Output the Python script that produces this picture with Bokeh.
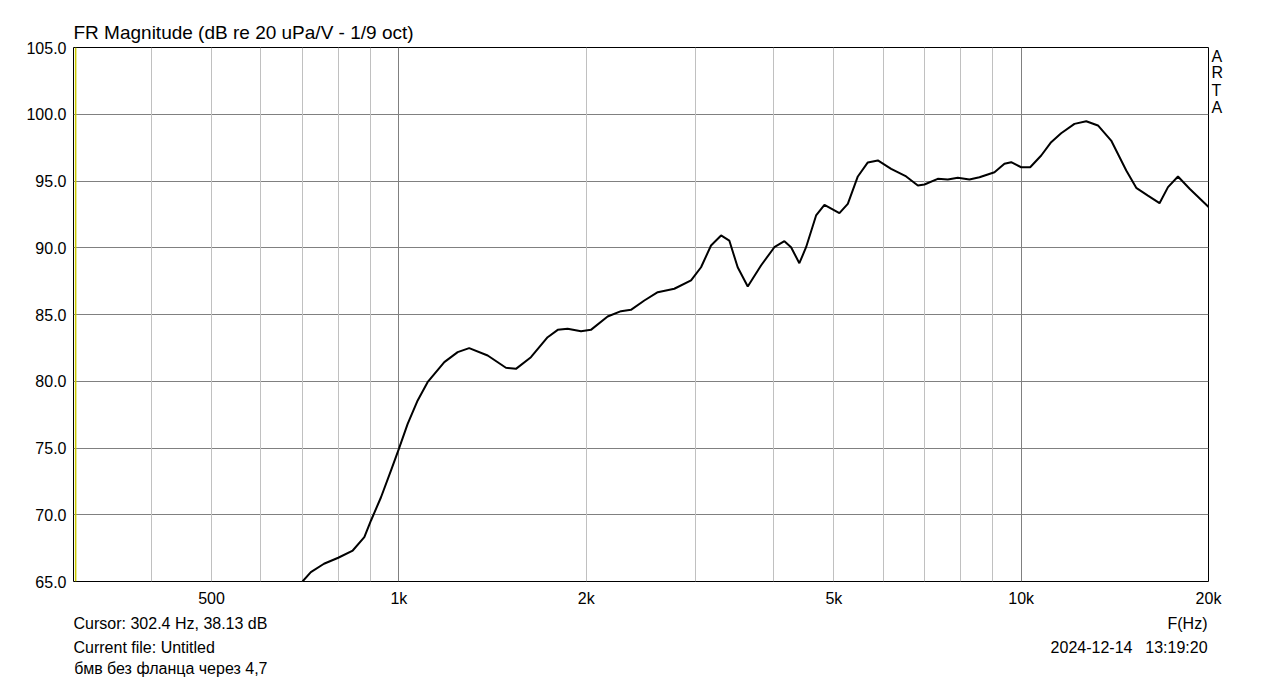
from bokeh.plotting import figure
from bokeh.models import (Range1d, FixedTicker, Grid, Span, LogAxis,
                          LinearAxis, PrintfTickFormatter)
from bokeh.embed import file_html
from bokeh.resources import INLINE

# ---------------- data ----------------
freq_hz = [680, 700, 722, 758, 799, 843, 880, 902, 936, 971, 1000, 1033, 1072,
           1112, 1183, 1243, 1297, 1389, 1486, 1542, 1630, 1734, 1800, 1867,
           1962, 2035, 2165, 2275, 2360, 2480, 2606, 2771, 2948, 3059, 3174,
           3294, 3396, 3503, 3636, 3819, 4012, 4164, 4268, 4401, 4512, 4682,
           4829, 5104, 5265, 5464, 5670, 5884, 6180, 6534, 6823, 6991, 7345,
           7623, 7910, 8258, 8570, 9060, 9400, 9637, 10000, 10339, 10770,
           11173, 11594, 12180, 12722, 13285, 13952, 14753, 15307, 15984,
           16685, 17216, 17864, 18650, 19970, 20000]
level_db = [64.6, 65.0, 65.70, 66.33, 66.78, 67.32, 68.32, 69.57, 71.31, 73.31,
            74.94, 76.81, 78.56, 79.93, 81.43, 82.18, 82.48, 81.93, 81.01,
            80.93, 81.80, 83.30, 83.85, 83.93, 83.75, 83.85, 84.85, 85.25,
            85.35, 86.05, 86.67, 86.93, 87.55, 88.54, 90.17, 90.92, 90.54,
            88.54, 87.10, 88.67, 90.04, 90.49, 90.04, 88.84, 90.04, 92.42,
            93.22, 92.59, 93.29, 95.34, 96.39, 96.54, 95.91, 95.34, 94.66,
            94.74, 95.16, 95.11, 95.24, 95.11, 95.28, 95.66, 96.29, 96.41,
            96.03, 96.03, 96.91, 97.91, 98.58, 99.28, 99.48, 99.16, 98.03,
            95.79, 94.49, 93.91, 93.34, 94.54, 95.34, 94.42, 93.09, 93.05]

x_tick_values = [500, 1000, 2000, 5000, 10000, 20000]
x_tick_labels = ["500", "1k", "2k", "5k", "10k", "20k"]
major_grid_hz = [1000, 10000]
minor_grid_hz = [400, 500, 600, 700, 800, 900, 2000, 3000, 4000, 5000, 6000,
                 7000, 8000, 9000]
y_ticks = [65, 70, 75, 80, 85, 90, 95, 100, 105]
x_min, x_max = 300, 20000
y_min, y_max = 65, 105
cursor_hz = 302.4

title_text = "FR Magnitude (dB re 20 uPa/V - 1/9 oct)"
cursor_text = "Cursor: 302.4 Hz, 38.13 dB"
file_text = "Current file: Untitled"
note_text = "бмв без фланца через 4,7"
axis_text = "F(Hz)"
date_text = "2024-12-14"
time_text = "13:19:20"
side_letters = ["A", "R", "T", "A"]

FONT = "Liberation Sans"
FRAME_W, FRAME_H = 1135, 534

# ---------------- figure ----------------
p = figure(x_axis_type="log", frame_width=FRAME_W, frame_height=FRAME_H,
           min_border_left=73, min_border_right=57, min_border_top=47,
           min_border_bottom=96, toolbar_location=None, output_backend="svg",
           x_range=Range1d(x_min, x_max), y_range=Range1d(y_min, y_max))
p.background_fill_color = "white"
p.border_fill_color = "white"
p.outline_line_color = "black"
p.outline_line_width = 1

p.title.text = title_text
p.title.align = "left"
p.title.text_font = FONT
p.title.text_font_size = "19px"
p.title.text_font_style = "normal"
p.title.text_color = "black"
p.title.standoff = 10

p.xgrid.visible = False
p.ygrid.ticker = FixedTicker(ticks=y_ticks)
p.ygrid.grid_line_color = "#808080"

p.add_layout(Grid(dimension=0, ticker=FixedTicker(ticks=minor_grid_hz),
                  grid_line_color="#c0c0c0", grid_line_width=1), "center")
p.add_layout(Grid(dimension=0, ticker=FixedTicker(ticks=major_grid_hz),
                  grid_line_color="#808080", grid_line_width=1), "center")


def style_axis(ax, standoff):
    ax.major_tick_line_color = None
    ax.minor_tick_line_color = None
    ax.major_tick_out = 0
    ax.minor_tick_out = 0
    ax.major_tick_in = 0
    ax.minor_tick_in = 0
    ax.axis_line_color = None
    ax.major_label_text_font = FONT
    ax.major_label_text_font_size = "16px"
    ax.major_label_text_color = "black"
    ax.major_label_standoff = standoff


xa = p.xaxis[0]
style_axis(xa, 8)
xa.ticker = FixedTicker(ticks=x_tick_values)
xa.major_label_overrides = {v: t for v, t in zip(x_tick_values, x_tick_labels)}

ya = p.yaxis[0]
style_axis(ya, 7)
ya.ticker = FixedTicker(ticks=y_ticks)
ya.formatter = PrintfTickFormatter(format="%.1f")

# "ARTA" stacked letters beside the frame (positions in screen px from top)
letter_px = [56, 72.5, 89.5, 107]
letter_pos = [round(y_max - (py - 47) * (y_max - y_min) / FRAME_H, 3)
              for py in letter_px]
ra = LinearAxis(ticker=FixedTicker(ticks=letter_pos),
                major_label_overrides={v: t for v, t in zip(letter_pos, side_letters)})
style_axis(ra, 3)
p.add_layout(ra, "right")


def px_to_hz(px_from_left):
    return round(x_min * (x_max / x_min) ** (px_from_left / FRAME_W), 3)


def text_row(items, standoff):
    # items: (center px measured from frame left, text)
    pos = [px_to_hz(c) for c, _ in items]
    ax = LogAxis(ticker=FixedTicker(ticks=pos),
                 major_label_overrides={v: t for v, (_, t) in zip(pos, items)})
    style_axis(ax, standoff)
    p.add_layout(ax, "below")


text_row([(97.0, cursor_text), (1114.0, axis_text)], 5)
text_row([(70.7, file_text), (1018.0, date_text), (1102.9, time_text)], 4)
text_row([(97.4, note_text)], 1)

p.add_layout(Span(location=cursor_hz, dimension="height",
                  line_color="#c8c800", line_width=1.5))

p.line(freq_hz, level_db, line_color="black", line_width=2)

open("out.html", "w").write(file_html(p, INLINE))
